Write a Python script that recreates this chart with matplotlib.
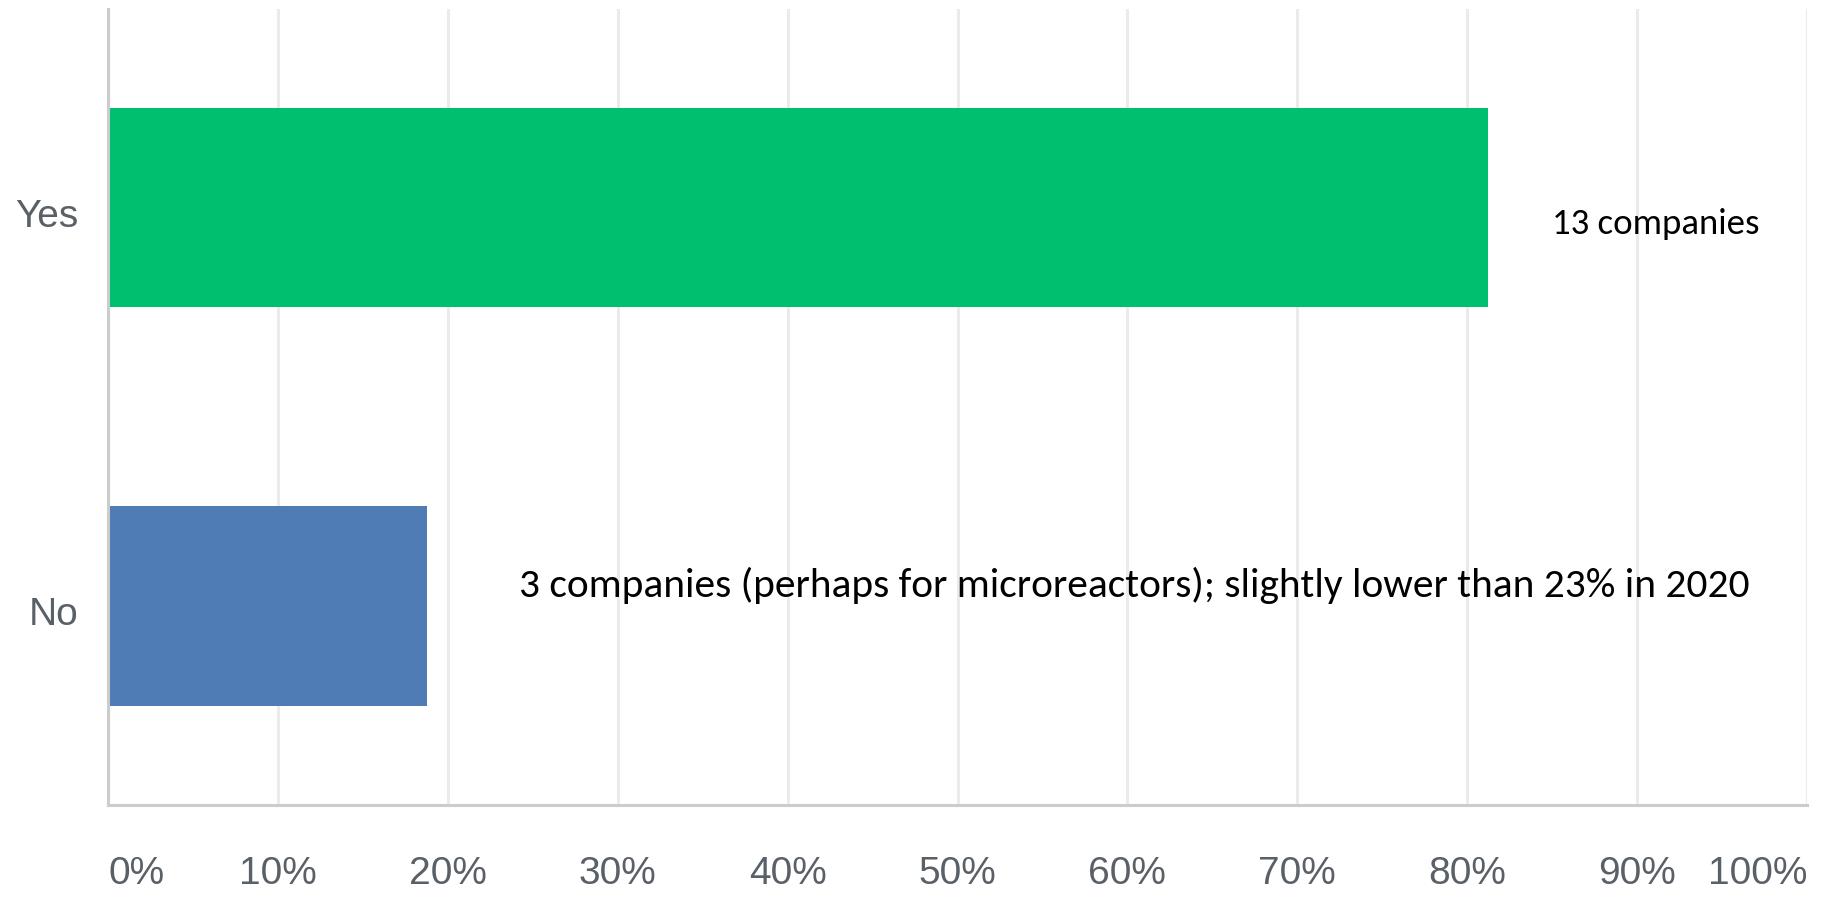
import matplotlib
matplotlib.use("Agg")
import matplotlib.pyplot as plt
import matplotlib.transforms as mtransforms

categories = ["Yes", "No"]
values = [81.25, 18.75]
bar_colors = ["#00bf6f", "#4f7cb4"]
notes = ["13 companies",
         "3 companies (perhaps for microreactors); slightly lower than 23% in 2020"]
xticks = list(range(0, 101, 10))
xtick_labels = [f"{t}%" for t in xticks]

# layout / style for the notes (not data)
note_style = [dict(x=85.0, dy=0.065, size=26.5),
              dict(x=24.2, dy=-0.023, size=29.8)]

W, H = 1829, 898
fig = plt.figure(figsize=(W / 100, H / 100), dpi=100)
ax = fig.add_axes([108 / W, 1 - 805 / H, (1807 - 108) / W, (805 - 9) / H])

ypos = list(range(len(categories)))
ax.barh(ypos, values, height=0.5, color=bar_colors, zorder=3)

ax.set_xlim(0, 100)
ax.set_ylim(1.5, -0.5)

ax.set_xticks(xticks)
ax.set_xticklabels(xtick_labels)
ax.set_yticks(ypos)
ax.set_yticklabels(categories)

tickfont = ["Liberation Sans", "DejaVu Sans"]
for lab in ax.get_xticklabels() + ax.get_yticklabels():
    lab.set_family(tickfont)
    lab.set_fontsize(28)
    lab.set_color("#5a6068")
xl = ax.get_xticklabels()
xl[0].set_horizontalalignment("left")
xl[-1].set_horizontalalignment("right")

ax.tick_params(axis="x", length=0, pad=37)
ax.tick_params(axis="y", length=0, pad=21)

shift = mtransforms.ScaledTranslation(0, -5 / 100, fig.dpi_scale_trans)
for lab in ax.get_yticklabels():
    lab.set_transform(lab.get_transform() + shift)

ax.grid(axis="x", color="#ebebeb", linewidth=2.2, zorder=0)
ax.grid(axis="y", visible=False)
for s in ["top", "right"]:
    ax.spines[s].set_visible(False)
for s in ["left", "bottom"]:
    ax.spines[s].set_color("#cccccc")
    ax.spines[s].set_linewidth(2.2)
    ax.spines[s].set_zorder(4)

for i, (t, st) in enumerate(zip(notes, note_style)):
    ax.text(st["x"], i + st["dy"], t, ha="left", va="baseline",
            fontsize=st["size"], family=["Carlito", "Lato", "DejaVu Sans"],
            color="black", zorder=5)

fig.savefig("out.png", dpi=100, facecolor="white")
